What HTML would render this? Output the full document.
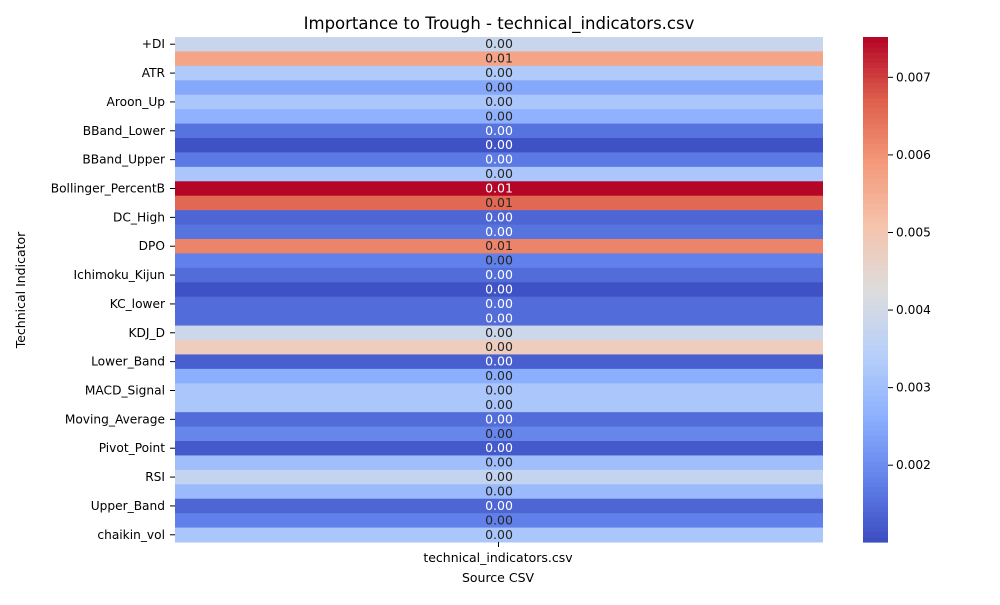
<!DOCTYPE html>
<html><head><meta charset="utf-8"><style>
body{margin:0;background:#fff;font-family:"Liberation Sans","DejaVu Sans",sans-serif}
svg text{font-family:"DejaVu Sans","Liberation Sans",sans-serif}
</style></head><body>
<svg id="chart" width="1000" height="600" xmlns="http://www.w3.org/2000/svg">
<text x="499" y="29" text-anchor="middle" font-size="16.5">Importance to Trough - technical_indicators.csv</text>
<g id="cells"></g><g id="ylabels"></g>
<g id="cbar"></g>
<line x1="498.5" y1="542" x2="498.5" y2="547" stroke="#000"/>
<text x="498" y="562" text-anchor="middle" font-size="12.5">technical_indicators.csv</text>
<text x="498" y="582" text-anchor="middle" font-size="12.5">Source CSV</text>
<text transform="translate(25,290) rotate(-90)" text-anchor="middle" font-size="12.5">Technical Indicator</text>
</svg>
<script>
const labels=["+DI","","ATR","","Aroon_Up","","BBand_Lower","","BBand_Upper","","Bollinger_PercentB","","DC_High","","DPO","","Ichimoku_Kijun","","KC_lower","","KDJ_D","","Lower_Band","","MACD_Signal","","Moving_Average","","Pivot_Point","","RSI","","Upper_Band","","chaikin_vol"];
const values=[0.0038,0.0057,0.0033,0.0025,0.0032,0.0027,0.0016,0.0011,0.0017,0.0032,0.0075,0.0066,0.0014,0.0016,0.0062,0.0018,0.0015,0.0011,0.0015,0.0015,0.0039,0.0048,0.0013,0.0026,0.0032,0.0032,0.0015,0.0019,0.0012,0.0030,0.0037,0.0029,0.0014,0.0018,0.0032];
const cbTicks=[0.002,0.003,0.004,0.005,0.006,0.007];
const vmin=0.00101,vmax=0.00752;
const cm=[[59,76,192],[98,130,234],[141,176,254],[184,208,249],[221,221,221],[245,196,173],[244,154,123],[222,96,77],[180,4,38]];
function color(v){let t=Math.max(0,Math.min(1,(v-vmin)/(vmax-vmin)))*8;let i=Math.min(7,Math.floor(t)),f=t-i;const c=cm[i].map((a,k)=>Math.round(a+(cm[i+1][k]-a)*f));return c;}
const NS="http://www.w3.org/2000/svg";
const X0=175,X1=823,Y0=37,Y1=542,rh=(Y1-Y0)/values.length;
const rowY=i=>Y0+i*rh;
const cells=document.getElementById('cells'),yl=document.getElementById('ylabels');
function mk(tag,attrs,parent){const e=document.createElementNS(NS,tag);for(const k in attrs)e.setAttribute(k,attrs[k]);parent.appendChild(e);return e;}
values.forEach((v,i)=>{
 const c=color(v);
 const r=mk('rect',{x:X0,y:rowY(i),width:X1-X0,height:rh+0.5,fill:`rgb(${c})`},cells);
 
 
 const lum=(0.2126*c[0]+0.7152*c[1]+0.0722*c[2])/255;
 const t=mk('text',{x:(X0+X1)/2,y:rowY(i)+rh/2+4,'text-anchor':'middle','font-size':12.5,fill:lum<0.5?'#fff':'#262626'},cells);
 t.textContent=v.toFixed(2);
 
 
 if(labels[i]){
  const tk=mk('line',{x1:X0-5,x2:X0,y1:rowY(i)+rh/2,y2:rowY(i)+rh/2,stroke:'#000'},yl);
  
  
  const l=mk('text',{x:X0-10,y:rowY(i)+rh/2+4,'text-anchor':'end','font-size':12.2},yl);
  l.textContent=labels[i];
  
  
 }
});
const cb=document.getElementById('cbar');
const CX=863,CW=25;
const cy=v=>Y1-(v-vmin)/(vmax-vmin)*(Y1-Y0);
for(let k=0;k<100;k++){const v=vmin+(vmax-vmin)*k/100;const c=color(v+(vmax-vmin)/200);
 const r=mk('rect',{x:CX,y:cy(v+(vmax-vmin)/100),width:CW,height:(Y1-Y0)/100+0.6,fill:`rgb(${c})`},cb);
 
 }
cbTicks.forEach(v=>{
 const tk=mk('line',{x1:CX+CW,x2:CX+CW+5,y1:cy(v),y2:cy(v),stroke:'#000'},cb);
 
 
 const t=mk('text',{x:CX+CW+8,y:cy(v)+4,'font-size':12.2},cb);
 t.textContent=v.toFixed(3);
 
 
});
</script>
</body></html>
